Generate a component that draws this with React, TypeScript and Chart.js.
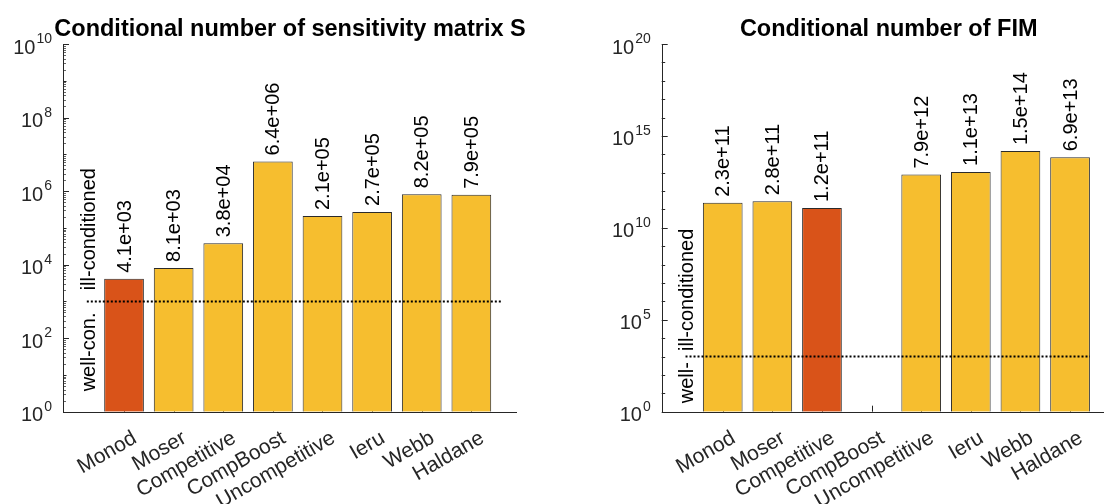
import React, { useEffect, useRef } from 'react';
import { Chart, registerables } from 'chart.js';

Chart.register(...registerables);

// ---------------- data ----------------
const categories = ['Monod', 'Moser', 'Competitive', 'CompBoost', 'Uncompetitive', 'Ieru', 'Webb', 'Haldane'];
const sensitivityCond: (number | null)[] = [4.1e3, 8.1e3, 3.8e4, 6.4e6, 2.1e5, 2.7e5, 8.2e5, 7.9e5];
const fimCond: (number | null)[] = [2.3e11, 2.8e11, 1.2e11, null, 7.9e12, 1.1e13, 1.5e14, 6.9e13];
const sensitivityYTicks = [1e0, 1e2, 1e4, 1e6, 1e8, 1e10];
const fimYTicks = [1e0, 1e5, 1e10, 1e15, 1e20];
const sensitivityTitle = 'Conditional number of sensitivity matrix S';
const fimTitle = 'Conditional number of FIM';
const conditionThreshold = 1e3;
const sensitivityBandLabels = ['well-con.', 'ill-conditioned'];
const fimBandLabels = ['well-', 'ill-conditioned'];
const sensitivityHighlight = 0;
const fimHighlight = 2;

// ---------------- style ----------------
const FONT = '"Liberation Sans", Arial, Helvetica, sans-serif';
const AXIS = '#262626';
const YELLOW = '#F6BE2F';
const ORANGE = '#D95319';
const EDGE = '#2a2a2a';
const MAJOR_LEN = 6;
const MINOR_LEN = 3.5;

function sci(v: number): string {
  const [m, e] = v.toExponential(1).split('e');
  const n = parseInt(e, 10);
  return `${m}e${n < 0 ? '-' : '+'}${String(Math.abs(n)).padStart(2, '0')}`;
}

const matlabAxes = {
  id: 'matlabAxes',
  beforeDatasetsDraw(chart: any, _a: any, o: any) {
    const { ctx, chartArea: a } = chart;
    const x = chart.scales.x;
    const y = chart.scales.y;
    ctx.save();
    ctx.lineWidth = 1;
    const lo = Math.round(Math.log10(y.min));
    const hi = Math.round(Math.log10(y.max));
    const majorExp = o.yTicks.map((t: number) => Math.round(Math.log10(t)));
    ctx.strokeStyle = AXIS;
    ctx.beginPath();
    for (let e = lo; e <= hi; e++) {
      const len = majorExp.includes(e) ? MAJOR_LEN : MINOR_LEN;
      const py = Math.round(y.getPixelForValue(Math.pow(10, e))) + 0.5;
      ctx.moveTo(a.left, py);
      ctx.lineTo(a.left + len, py);
    }
    x.ticks.forEach((t: any) => {
      const px = Math.round(x.getPixelForValue(t.value)) + 0.5;
      ctx.moveTo(px, a.bottom);
      ctx.lineTo(px, a.bottom - MAJOR_LEN);
    });
    ctx.stroke();
    if (o.subMinor) {
      ctx.strokeStyle = '#666';
      ctx.beginPath();
      for (let e = lo; e < hi; e++) {
        for (let m = 2; m <= 9; m++) {
          const q = Math.round(y.getPixelForValue(m * Math.pow(10, e))) + 0.5;
          ctx.moveTo(a.left, q);
          ctx.lineTo(a.left + MINOR_LEN - 0.5, q);
        }
      }
      ctx.stroke();
    }
    ctx.restore();
  },
  afterDatasetsDraw(chart: any, _a: any, o: any) {
    const { ctx, chartArea: a } = chart;
    const x = chart.scales.x;
    const y = chart.scales.y;
    ctx.save();
    ctx.strokeStyle = AXIS;
    ctx.lineWidth = 1;
    ctx.beginPath();
    const lx = Math.round(a.left) + 0.5;
    const by = Math.round(a.bottom) + 0.5;
    ctx.moveTo(lx, a.top);
    ctx.lineTo(lx, by);
    ctx.lineTo(a.right, by);
    ctx.stroke();

    // threshold dotted line
    const ty = y.getPixelForValue(o.threshold);
    ctx.strokeStyle = '#000';
    ctx.lineWidth = 2;
    ctx.setLineDash([2, 2]);
    ctx.beginPath();
    ctx.moveTo(x.getPixelForValue(o.lineFrom), ty);
    ctx.lineTo(x.getPixelForValue(o.lineTo), ty);
    ctx.stroke();
    ctx.setLineDash([]);

    // value labels
    ctx.fillStyle = '#000';
    ctx.font = `20px ${FONT}`;
    ctx.textAlign = 'left';
    ctx.textBaseline = 'middle';
    o.values.forEach((v: number | null, i: number) => {
      if (v == null) return;
      const px = x.getPixelForValue(i + 1);
      const py = y.getPixelForValue(v);
      ctx.save();
      ctx.translate(px + 1, py - 6);
      ctx.rotate(-Math.PI / 2);
      ctx.fillText(sci(v), 0, 0);
      ctx.restore();
    });

    // band labels
    const bx = x.getPixelForValue(0.5);
    ctx.textBaseline = 'bottom';
    ctx.save();
    ctx.translate(bx, y.getPixelForValue(o.threshold * 2));
    ctx.rotate(-Math.PI / 2);
    ctx.textAlign = 'left';
    ctx.fillText(o.bands[1], 0, 0);
    ctx.restore();
    ctx.save();
    ctx.translate(bx, y.getPixelForValue(o.threshold / 2));
    ctx.rotate(-Math.PI / 2);
    ctx.textAlign = 'right';
    ctx.fillText(o.bands[0], 0, 0);
    ctx.restore();

    // y tick labels 10^n
    ctx.fillStyle = AXIS;
    ctx.textAlign = 'right';
    ctx.textBaseline = 'alphabetic';
    o.yTicks.forEach((t: number) => {
      const py = y.getPixelForValue(t);
      const exp = String(Math.round(Math.log10(t)));
      ctx.font = `14px ${FONT}`;
      const ew = ctx.measureText(exp).width;
      const right = a.left - 11;
      ctx.fillText(exp, right, py - 1);
      ctx.font = `20px ${FONT}`;
      ctx.fillText('10', right - ew - 1, py + 9.5);
    });

    // category labels
    ctx.font = `21px ${FONT}`;
    ctx.textAlign = 'right';
    ctx.textBaseline = 'middle';
    o.categories.forEach((c: string, i: number) => {
      const px = x.getPixelForValue(i + 1);
      ctx.save();
      ctx.translate(px + 11, a.bottom + 25);
      ctx.rotate(-Math.PI / 6);
      ctx.fillText(c, 0, 0);
      ctx.restore();
    });

    // title
    ctx.fillStyle = '#000';
    ctx.font = `bold 23.5px ${FONT}`;
    ctx.textAlign = 'center';
    ctx.textBaseline = 'alphabetic';
    ctx.fillText(o.title, (a.left + a.right) / 2, 35.5);
    ctx.restore();
  },
};

interface PanelCfg {
  values: (number | null)[];
  highlight: number;
  yTicks: number[];
  title: string;
  bands: string[];
  subMinor: boolean;
  lineTo: number;
  padLeft: number;
  padRight: number;
}

function buildConfig(p: PanelCfg): any {
  const data = p.values.map((v, i) => ({ x: i + 1, y: v }));
  return {
    type: 'bar',
    data: {
      datasets: [
        {
          data,
          backgroundColor: p.values.map((_, i) => (i === p.highlight ? ORANGE : YELLOW)),
          borderColor: EDGE,
          borderWidth: 1,
          barPercentage: 0.8,
          categoryPercentage: 1,
        },
      ],
    },
    options: {
      responsive: false,
      maintainAspectRatio: false,
      animation: false,
      devicePixelRatio: 1,
      layout: { padding: { left: p.padLeft, right: p.padRight, top: 44, bottom: 504 - 411.7 } },
      scales: {
        x: {
          type: 'linear',
          min: -0.23,
          max: 8.92,
          offset: false,
          display: false,
          afterBuildTicks: (s: any) => {
            s.ticks = categories.map((_, i) => ({ value: i + 1 }));
          },
        },
        y: { type: 'logarithmic', min: p.yTicks[0], max: p.yTicks[p.yTicks.length - 1], display: false },
      },
      plugins: {
        legend: { display: false },
        tooltip: { enabled: false },
        title: { display: false },
        matlabAxes: {
          values: p.values,
          yTicks: p.yTicks,
          categories,
          title: p.title,
          bands: p.bands,
          subMinor: p.subMinor,
          threshold: conditionThreshold,
          lineFrom: 0.25,
          lineTo: p.lineTo,
        },
      },
    },
    plugins: [matlabAxes],
  };
}

function Panel({ cfg, left, width }: { cfg: PanelCfg; left: number; width: number }) {
  const ref = useRef<HTMLCanvasElement>(null);
  useEffect(() => {
    const chart = new Chart(ref.current as HTMLCanvasElement, buildConfig(cfg));
    return () => chart.destroy();
  }, []);
  return (
    <canvas
      ref={ref}
      width={width}
      height={504}
      style={{ position: 'absolute', left, top: 0, width, height: 504 }}
    />
  );
}

export default function App() {
  const leftCfg: PanelCfg = {
    values: sensitivityCond,
    highlight: sensitivityHighlight,
    yTicks: sensitivityYTicks,
    title: sensitivityTitle,
    bands: sensitivityBandLabels,
    subMinor: true,
    lineTo: 8.6,
    padLeft: 63,
    padRight: 560 - 517,
  };
  const rightCfg: PanelCfg = {
    values: fimCond,
    highlight: fimHighlight,
    yTicks: fimYTicks,
    title: fimTitle,
    bands: fimBandLabels,
    subMinor: false,
    lineTo: 8.4,
    padLeft: 661.7 - 560,
    padRight: 600 - 1115.7 + 560,
  };
  return (
    <div
      style={{
        position: 'fixed',
        left: 0,
        top: 0,
        width: 1104,
        height: 504,
        overflow: 'hidden',
        background: '#fff',
      }}
    >
      <Panel cfg={leftCfg} left={0} width={560} />
      <Panel cfg={rightCfg} left={560} width={600} />
    </div>
  );
}
